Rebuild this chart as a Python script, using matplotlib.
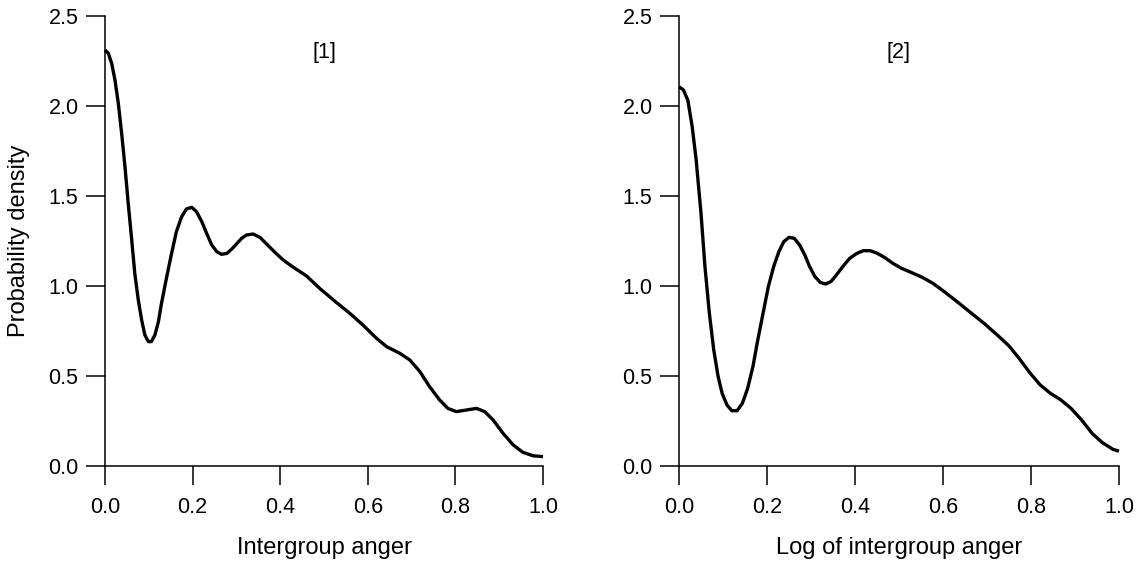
import matplotlib
matplotlib.use("Agg")
import matplotlib.pyplot as plt

plt.rcParams['font.family'] = ['Liberation Sans', 'DejaVu Sans']

# Panel 1: Intergroup anger (density)
x1 = [0.0, 0.0076, 0.0152, 0.0228, 0.0304, 0.038, 0.0456, 0.053, 0.061, 0.068,
      0.076, 0.0837, 0.091, 0.099, 0.106, 0.114, 0.122, 0.129, 0.141, 0.152,
      0.163, 0.175, 0.186, 0.198, 0.209, 0.221, 0.232, 0.243, 0.255, 0.266,
      0.278, 0.289, 0.300, 0.312, 0.323, 0.338, 0.354, 0.369, 0.388, 0.407,
      0.430, 0.460, 0.490, 0.529, 0.559, 0.589, 0.620, 0.643, 0.673, 0.696,
      0.719, 0.741, 0.764, 0.783, 0.802, 0.825, 0.848, 0.867, 0.886, 0.909,
      0.932, 0.954, 0.977, 1.0]
y1 = [2.311, 2.293, 2.237, 2.144, 2.015, 1.848, 1.663, 1.459, 1.256, 1.07,
      0.922, 0.811, 0.728, 0.691, 0.691, 0.728, 0.802, 0.904, 1.052, 1.181,
      1.302, 1.385, 1.428, 1.437, 1.413, 1.357, 1.293, 1.231, 1.191, 1.176,
      1.181, 1.204, 1.233, 1.265, 1.283, 1.289, 1.270, 1.233, 1.187, 1.144,
      1.104, 1.056, 0.987, 0.907, 0.848, 0.783, 0.709, 0.663, 0.626, 0.589,
      0.524, 0.441, 0.367, 0.320, 0.302, 0.311, 0.320, 0.302, 0.256, 0.181,
      0.117, 0.076, 0.057, 0.052]

# Panel 2: Log of intergroup anger
x2 = [0.0, 0.010, 0.020, 0.030, 0.039, 0.050, 0.059, 0.069, 0.079, 0.089,
      0.098, 0.109, 0.120, 0.132, 0.144, 0.156, 0.168, 0.179, 0.191, 0.203,
      0.215, 0.227, 0.238, 0.250, 0.262, 0.274, 0.286, 0.297, 0.309, 0.321,
      0.333, 0.345, 0.356, 0.372, 0.388, 0.404, 0.419, 0.435, 0.451, 0.467,
      0.486, 0.506, 0.529, 0.553, 0.577, 0.600, 0.632, 0.663, 0.695, 0.726,
      0.750, 0.773, 0.797, 0.821, 0.844, 0.868, 0.891, 0.915, 0.939, 0.962,
      0.986, 1.0]
y2 = [2.107, 2.089, 2.033, 1.885, 1.70, 1.404, 1.107, 0.848, 0.644, 0.496,
      0.404, 0.339, 0.307, 0.307, 0.348, 0.431, 0.552, 0.70, 0.848, 0.996,
      1.107, 1.191, 1.246, 1.270, 1.265, 1.228, 1.172, 1.107, 1.052, 1.020,
      1.011, 1.024, 1.056, 1.107, 1.154, 1.181, 1.196, 1.196, 1.181, 1.159,
      1.126, 1.098, 1.074, 1.048, 1.015, 0.974, 0.913, 0.852, 0.789, 0.722,
      0.667, 0.598, 0.519, 0.450, 0.404, 0.367, 0.320, 0.256, 0.181, 0.130,
      0.093, 0.082]

xticks = [0.0, 0.2, 0.4, 0.6, 0.8, 1.0]
yticks = [0.0, 0.5, 1.0, 1.5, 2.0, 2.5]
xlabels = ["Intergroup anger", "Log of intergroup anger"]
ylabel = "Probability density"
panel_tags = ["[1]", "[2]"]

fig = plt.figure(figsize=(11.45, 5.64), dpi=100)
W, H = 1145, 564
ax1 = fig.add_axes([105 / W, (H - 466) / H, 438 / W, 450 / H])
ax2 = fig.add_axes([679 / W, (H - 466) / H, 440 / W, 450 / H])

for ax, xs, ys, xl, tag in [(ax1, x1, y1, xlabels[0], panel_tags[0]),
                            (ax2, x2, y2, xlabels[1], panel_tags[1])]:
    ax.plot(xs, ys, color='black', lw=2.4, solid_joinstyle='round',
            solid_capstyle='butt', clip_on=False)
    ax.set_xlim(0, 1)
    ax.set_ylim(0, 2.5)
    ax.set_xticks(xticks)
    ax.set_xticklabels([f"{t:.1f}" for t in xticks])
    ax.set_yticks(yticks)
    ax.set_yticklabels([f"{t:.1f}" for t in yticks])
    for s in ['top', 'right']:
        ax.spines[s].set_visible(False)
    for s in ['left', 'bottom']:
        ax.spines[s].set_linewidth(1.1)
    ax.tick_params(direction='out', length=14, width=1.1, labelsize=15.5)
    ax.tick_params(axis='x', pad=8)
    ax.tick_params(axis='y', pad=5)
    ax.set_xlabel(xl, fontsize=17, labelpad=14)
    ax.text(0.5, 2.3, tag, ha='center', va='center', fontsize=15.5)

ax1.set_ylabel(ylabel, fontsize=17, labelpad=13)

fig.savefig("out.png", dpi=100)
